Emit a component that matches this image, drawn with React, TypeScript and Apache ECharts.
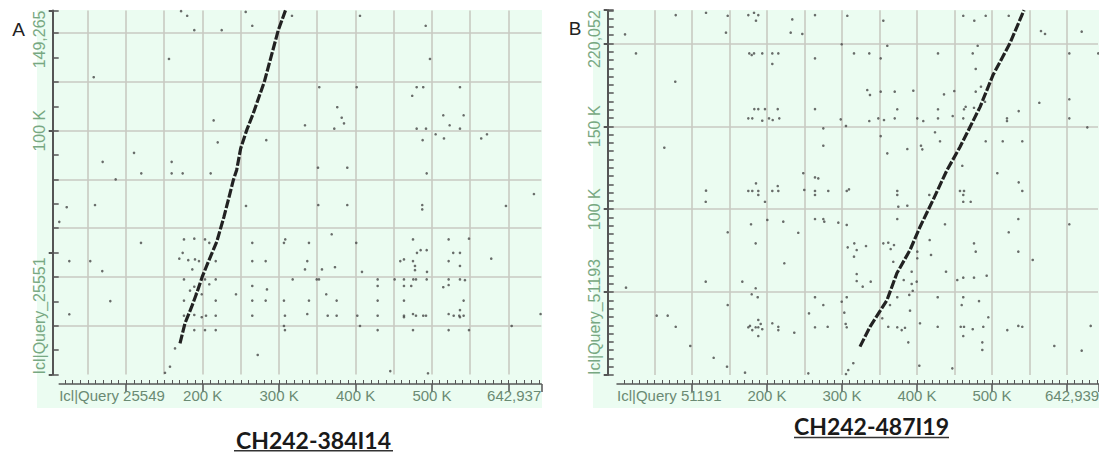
import { useEffect, useRef } from 'react';
import * as echarts from 'echarts';

// ---------- data (all positions in kb) ----------
const scatterA: number[][] = [
  [172, 149], [180, 147.1], [189.3, 141.2], [225.1, 141.2], [256.5, 148.7], [265.1, 143], [317, 147.1],
  [156.2, 129.4], [57.8, 121.9], [214.6, 104.2], [219.9, 95.2], [283.4, 96.1], [110.5, 90.9], [69.5, 87.2],
  [159.7, 87.2], [120, 82.5], [159.7, 82.5], [174.1, 82.5], [210.7, 82.5], [86.5, 80],
  [405.9, 147.1], [491.8, 143], [497.4, 129.4], [352.7, 117.8], [401.6, 117.8], [480, 117.8], [488.6, 117.8],
  [536.6, 117.8], [474.2, 114.3], [376.2, 109.6], [382, 105.3], [385, 103], [334, 102.2], [372.3, 100.8],
  [480, 100.8], [492.2, 100.8], [514.8, 106.3], [541.4, 106.3], [523.1, 102.2], [536.6, 100.8], [504.8, 98.5],
  [515.7, 96.8], [487.8, 96.1], [564.4, 96.8], [571.9, 98.5], [351, 84.8], [389.3, 84.8], [493.1, 82.5], [633.3, 74],
  [22.5, 68.6], [59.5, 69.5], [256.9, 69.1], [12.8, 62.6], [119.6, 54], [175.8, 55.4], [189.3, 55.7], [203.3, 55.4],
  [208.9, 54], [265.1, 54], [306.5, 54], [308.2, 55.4], [25.9, 46.5], [53.3, 46.5], [69, 42.4], [174.1, 49.9],
  [169.7, 47.5], [181.4, 46.9], [190.2, 47.2], [195.4, 46.5], [186.7, 43.1], [217.3, 46.5], [265.1, 46.5],
  [282.6, 46.5], [175.8, 39], [203.3, 39], [217.3, 39], [317.9, 39], [208.9, 37], [189.3, 36], [183.7, 34.4],
  [191.5, 33.3], [199, 32.9], [243.8, 32.9], [265.1, 36.3], [284.3, 34.9], [79.5, 30.1], [175.8, 30.3],
  [217.3, 30.3], [265.1, 30.3], [282.6, 30.3], [306.5, 30.3], [25.9, 24.7], [175.8, 24.1], [189.3, 24.4],
  [199, 23.5], [204.6, 24.1], [217.3, 24.1], [265.1, 24.1], [307.8, 24.1], [306.5, 19.9], [189.3, 18.2],
  [203.3, 18.2], [217.3, 18.2], [307.8, 18.2], [272.2, 8],
  [351.4, 69.5], [389.3, 69.5], [487.3, 69.5], [487.3, 67.7], [596.7, 69.1], [339.2, 54], [368.9, 57.5],
  [401, 54], [475.2, 55.4], [480.4, 49.9], [485.2, 51], [493.1, 51], [521.8, 55.4], [527.8, 49.9], [536.6, 49.9],
  [548.4, 55.7], [337, 46.5], [334, 43.1], [356.2, 43.1], [373.2, 44], [408.5, 42.1], [458.6, 46.5],
  [463.4, 47.2], [475.2, 46.5], [477.8, 44.5], [477.8, 42.8], [493.5, 42.1], [521.8, 46.5], [536.6, 44.5],
  [577.5, 47.5], [349.3, 39], [352.3, 39], [429, 39], [451.2, 39], [463.4, 39], [475.6, 39], [479.1, 39],
  [493.1, 39], [521.8, 39], [536.6, 39], [543.1, 38.7], [361.8, 32.9], [429, 36.3], [463.4, 36.3], [472.9, 36.3],
  [514.8, 35.8], [521.8, 36.7], [339.2, 30.3], [375.4, 30.3], [429, 30.3], [463.4, 30.3], [541.4, 30.3],
  [536.6, 26.4], [337, 24.8], [363.7, 24.1], [375.4, 24.1], [402.4, 24.1], [429, 24.1], [463.4, 24.1],
  [463.4, 23.5], [475.2, 24.8], [479.1, 24.1], [488.6, 24.1], [492.2, 24.1], [521.8, 24.8], [528.4, 24.1],
  [535.7, 24.1], [536.6, 23.5], [541.4, 24.1], [642, 24.8], [405.9, 19.9], [429, 18.2], [475.2, 18.2],
  [521.8, 18.2], [548.4, 18.2], [604.2, 19.9], [445.5, 1.4], [494.8, 0.5],
  [164.1, 10.7], [157.5, 3.2], [151, 0.7],
];

const alignA: number[][] = [
  [170.6, 12.8], [177.1, 21], [185.9, 27.8], [192.4, 33.3], [199.7, 40.1], [207.6, 46.2], [218.6, 54.4],
  [228.1, 64.7], [233.7, 71.5], [240.3, 79.7], [244.7, 83.9], [249.9, 92.7], [257.8, 100.2], [266.4, 107.1],
  [280.8, 120], [299.1, 141.2], [308.5, 149.3],
];

const scatterB: number[][] = [
  [78.3, 217.1], [118.7, 218.5], [147.6, 216.7], [175.1, 217.1], [182.7, 218.5], [188.4, 217.1], [185.3, 213.7],
  [233.7, 214.5], [264, 217.1], [10.7, 205.5], [145.3, 206.5], [231.6, 206.5], [247.1, 205.7], [25.3, 194],
  [176.4, 194], [179.6, 193], [182.7, 194], [193.7, 194], [207.1, 194], [215.1, 194], [207.1, 187.6], [264, 191],
  [77.7, 176.9], [183.1, 160.4], [188.4, 160.4], [197.3, 160.4], [214.3, 160.4], [264, 160.4], [175.1, 154.8],
  [180.4, 154.8], [193.7, 153.4], [202.7, 154.8], [207.6, 153.8], [216.4, 154.8], [275.1, 148.8], [275.1, 138.3],
  [63.1, 137.1], [248.4, 121.7], [264, 119.2], [268.4, 118.6], [118.7, 111.2], [175.1, 111], [180.4, 111],
  [188.4, 111], [188.4, 108.6], [185.3, 115.6], [207.1, 111], [215.1, 111], [214.3, 114], [249.7, 111.6],
  [264, 111], [264, 108.6], [281.7, 111],
  [307.1, 216.7], [355.1, 213.7], [461.7, 216.7], [476.4, 213.7], [491.6, 216.7], [522.3, 216.7], [565.3, 207.5],
  [570.7, 205.7], [619.6, 207.1], [299.6, 199.5], [360.4, 198.6], [480.9, 198.6], [316, 194], [336.4, 194],
  [351.6, 191], [428, 194], [474.3, 194], [603.1, 194], [641.7, 194], [478.3, 184.6], [333.7, 171.9],
  [337.3, 168.9], [351.6, 170.9], [370.3, 170.9], [395.1, 171.5], [436, 169.3], [449.7, 171.3], [478.3, 170.9],
  [485.3, 173.9], [490.7, 164.8], [563.1, 164.2], [603.1, 166.3], [373.7, 160.3], [428, 160.3], [464.9, 161.8],
  [462.7, 160.3], [476, 161.2], [535.6, 159.2], [298.3, 154.2], [336.4, 153.2], [348.4, 154.8], [356, 153.8],
  [370.3, 154.8], [400.4, 154.8], [408.4, 153.2], [428, 154.8], [447.6, 156.2], [461.7, 154.8], [520, 154.8],
  [520, 153.2], [603.1, 154.8], [305.3, 150.2], [351.6, 144.1], [424, 146.4], [430.7, 141], [491.6, 141],
  [514.3, 141], [540.4, 141], [627.1, 149.4], [360.4, 133.7], [387.1, 136.3], [405.3, 138.3], [407.1, 136.1],
  [460.4, 126.2], [507.1, 121.7], [535.6, 116.2], [540.4, 111], [306.3, 111], [309.3, 112], [373.7, 111],
  [373.7, 108.6], [416.4, 108.6], [457.3, 111], [462.7, 111], [461.7, 108.6],
  [118.3, 104.5], [197.3, 104.5], [200.4, 93.5], [221.7, 92.5], [178.7, 90.9], [147.6, 86.1], [241.7, 85.8],
  [264, 94.1], [275.1, 94.1], [276.4, 92.5], [184.9, 79.4], [223.1, 67.4], [118.3, 56.3], [167.1, 56.3],
  [184.9, 52.3], [12, 52.7], [179.6, 48.7], [187.6, 46.9], [147.6, 42.2], [264, 46.9], [275.1, 42.2], [256, 37.2],
  [52.9, 35.8], [67.6, 35.8], [78.3, 29.1], [177.3, 29.6], [175.1, 28.8], [180.4, 27.1], [184.9, 28.8],
  [188.4, 33.2], [188.4, 28.8], [191.6, 30.8], [193.7, 27.6], [188.4, 23.5], [207.1, 31.2], [215.1, 29.1],
  [215.1, 27.1], [236.4, 25.5], [264, 28.8], [280.9, 29.1], [97.7, 17.5], [128.9, 10.4], [146.7, 5],
  [170.7, 1.4], [255.1, 1],
  [375.1, 101.5], [387.1, 102.1], [461.7, 104.5], [471.6, 104.5], [295.1, 91.9], [306.3, 90.5], [373.7, 94.1],
  [437.3, 90.9], [535.1, 94.1], [603.1, 90.9], [522.3, 86.1], [416.9, 81.4], [307.6, 77], [316.4, 79.4],
  [319.6, 75.4], [332, 77.8], [316, 71.4], [355.1, 79.4], [361.7, 79.8], [364.9, 76], [369.3, 78.4],
  [400.4, 74.4], [400.4, 70.4], [418.7, 72.4], [476, 79.4], [478.3, 74.4], [535.1, 74.4], [554.3, 69.4],
  [368.4, 68.3], [438.7, 62.3], [319.6, 60.9], [319.6, 56.7], [327.6, 53.3], [338.3, 56.3], [382.3, 57.3],
  [392.9, 62.3], [392.9, 54.9], [399.6, 56.3], [453.7, 57.3], [461.7, 58.7], [476, 58.7], [492.9, 59.9],
  [373.7, 46.9], [389.7, 48.3], [394.3, 50.8], [427.6, 46.9], [461.7, 46.9], [299.6, 44.2], [306.3, 46.9],
  [303.1, 37.6], [364, 42.2], [390.7, 38.8], [459.6, 42.2], [482.7, 44.6], [495.1, 34.8], [304.9, 30.8],
  [306.3, 28.8], [353.7, 34.2], [361.7, 29.1], [373.7, 28.8], [379.6, 27.1], [384, 28.5], [404, 31.2],
  [427.6, 29.1], [458.3, 29.1], [462.7, 29.1], [461.7, 23.5], [474.3, 27.6], [488.4, 29.1], [487.1, 19.7],
  [487.1, 15.1], [520.4, 27.1], [535.1, 29.6], [540.4, 29.1], [583.1, 17.5], [619.6, 14.7], [631.6, 29.6],
  [388.4, 19.7], [403.1, 5.6], [447.1, 4],
  [305.3, 0.6], [308.4, 3], [315.1, 7.1],
];

const alignB: number[][] = [
  [324, 17.1], [337.3, 29], [360, 45.2], [373.3, 61.5], [390.7, 75.4], [404, 89.3], [421.3, 105.5],
  [440, 123.6], [457.3, 137.5], [470.7, 149.6], [484, 161.6], [501.3, 180.9], [524, 200.2], [542.7, 220.1],
];

// axis extents (kb)
const xMaxA = 642.937;
const yMaxA = 149.265;
const xStartA = 12.4;
const xMaxB = 642.939;
const yMaxB = 220.052;
const xStartB = 0;

// tick labels
const xLabelValuesA = [xStartA, 200, 300, 400, 500, xMaxA];
const xLabelTextsA = ['Icl|Query 25549', '200 K', '300 K', '400 K', '500 K', '642,937'];
const yLabelValuesA = [0, 100, yMaxA];
const yLabelTextsA = ['Icl|Query_25551', '100 K', '149,265'];

const xLabelValuesB = [xStartB, 200, 300, 400, 500, xMaxB];
const xLabelTextsB = ['Icl|Query 51191', '200 K', '300 K', '400 K', '500 K', '642,939'];
const yLabelValuesB = [0, 100, 150, yMaxB];
const yLabelTextsB = ['Icl|Query_51193', '100 K', '150 K', '220,052'];

const titles = ['CH242-384I14', 'CH242-487I19'];
const panelLetters = ['A', 'B'];

// ---------- styles ----------
const BG = '#ebfcf1';
const GRIDLINE = '#c8cac2';
const AXIS = '#555555';
const YLAB = '#78a882';
const XLAB = '#6a8a73';
const DOT = '#474747';
const ALIGN = '#222222';
const NARROW = "'Liberation Sans Narrow', 'Liberation Sans', sans-serif";

function stepValues(from: number, to: number, step: number): number[] {
  const out: number[] = [];
  for (let v = from; v <= to + 1e-9; v += step) out.push(Math.round(v * 1000) / 1000);
  return out;
}

function lookup(values: number[], texts: string[]) {
  return (v: number) => {
    const i = values.findIndex((u) => Math.abs(u - v) < 1e-6);
    return i >= 0 ? texts[i] : '';
  };
}

interface Panel {
  yAxisLeft: number;
  yRight: number;
  plotLeft: number;
  plotWidth: number;
  xAxisLeft: number;
  xAxisWidth: number;
  top: number;
  height: number;
  axisY: number;
  xStart: number;
  xMax: number;
  yMax: number;
  yGrid: number;
  yMinor: number;
  yMajor: number;
  xLabelValues: number[];
  xLabelTexts: string[];
  yLabelValues: number[];
  yLabelTexts: string[];
  scatter: number[][];
  align: number[][];
}

const panels: Panel[] = [
  {
    yAxisLeft: 52.7, yRight: 541.3, plotLeft: 49.5, plotWidth: 491.8, xAxisLeft: 59.2, xAxisWidth: 482.1,
    top: 10.5, height: 364, axisY: 384, xStart: xStartA, xMax: xMaxA, yMax: yMaxA, yGrid: 20, yMinor: 10, yMajor: 50,
    xLabelValues: xLabelValuesA, xLabelTexts: xLabelTextsA, yLabelValues: yLabelValuesA, yLabelTexts: yLabelTextsA,
    scatter: scatterA, align: alignA,
  },
  {
    yAxisLeft: 607.7, yRight: 1098, plotLeft: 617, plotWidth: 482.2, xAxisLeft: 617, xAxisWidth: 482.2,
    top: 10.2, height: 364.8, axisY: 384, xStart: xStartB, xMax: xMaxB, yMax: yMaxB, yGrid: 50, yMinor: 5, yMajor: 50,
    xLabelValues: xLabelValuesB, xLabelTexts: xLabelTextsB, yLabelValues: yLabelValuesB, yLabelTexts: yLabelTextsB,
    scatter: scatterB, align: alignB,
  },
];

function buildOption() {
  const grid: any[] = [];
  const xAxis: any[] = [];
  const yAxis: any[] = [];
  const series: any[] = [];

  panels.forEach((p) => {
    const g0 = grid.length;
    const base = { outerBoundsMode: 'none', containLabel: false, show: false };
    grid.push({ ...base, left: p.yAxisLeft, top: p.top, width: p.yRight - p.yAxisLeft, height: p.height });
    grid.push({ ...base, left: p.plotLeft, top: p.top, width: p.plotWidth, height: p.height });
    grid.push({ ...base, left: p.xAxisLeft, top: p.axisY - 1, width: p.xAxisWidth, height: 1 });

    const x0 = xAxis.length;
    const y0 = yAxis.length;
    const hidden = { type: 'value', show: false, axisLine: { onZero: false } };

    // x axes
    xAxis.push({ ...hidden, gridIndex: g0, min: 0, max: 1 });
    xAxis.push({
      type: 'value', gridIndex: g0 + 1, min: 0, max: p.xMax, interval: 50, position: 'bottom',
      axisLine: { show: false, onZero: false }, axisTick: { show: false }, axisLabel: { show: false },
      splitLine: { show: true, showMinLine: false, showMaxLine: false, lineStyle: { color: GRIDLINE, width: 1.6 } },
    });
    const minorX = stepValues(Math.ceil((p.xStart + 0.001) / 10) * 10, p.xMax, 10);
    const majorX = stepValues(100, p.xMax, 100).concat([p.xMax]);
    xAxis.push({
      type: 'value', gridIndex: g0 + 2, min: p.xStart, max: p.xMax, position: 'bottom',
      axisLine: { show: true, onZero: false, lineStyle: { color: AXIS, width: 1.5 } },
      axisTick: { show: true, inside: true, length: 4, customValues: minorX, lineStyle: { color: AXIS, width: 1 } },
      axisLabel: { show: false }, splitLine: { show: false },
    });
    xAxis.push({
      type: 'value', gridIndex: g0 + 2, min: p.xStart, max: p.xMax, position: 'bottom',
      axisLine: { show: false, onZero: false },
      axisTick: { show: true, inside: false, length: 8, customValues: majorX, lineStyle: { color: AXIS, width: 1.5 } },
      axisLabel: {
        show: true, customValues: p.xLabelValues, formatter: lookup(p.xLabelValues, p.xLabelTexts),
        margin: 4, color: XLAB, fontSize: 15, fontFamily: NARROW, alignMinLabel: 'left', alignMaxLabel: 'right',
      },
      splitLine: { show: false },
    });

    // y axes
    yAxis.push({
      type: 'value', gridIndex: g0, min: 0, max: p.yMax, interval: p.yGrid, position: 'left',
      axisLine: { show: false, onZero: false }, axisTick: { show: false }, axisLabel: { show: false },
      splitLine: { show: true, showMinLine: false, showMaxLine: false, lineStyle: { color: GRIDLINE, width: 1.6 } },
    });
    yAxis.push({
      type: 'value', gridIndex: g0, min: 0, max: p.yMax, interval: p.yMinor, position: 'left',
      axisLine: { show: true, onZero: false, lineStyle: { color: AXIS, width: 2 } },
      axisTick: { show: true, inside: true, length: 6, lineStyle: { color: AXIS, width: 1.5 } },
      axisLabel: { show: false }, splitLine: { show: false },
    });
    yAxis.push({
      type: 'value', gridIndex: g0, min: 0, max: p.yMax, interval: p.yMajor, position: 'left',
      axisLine: { show: false, onZero: false },
      axisTick: { show: true, inside: false, length: 4, lineStyle: { color: AXIS, width: 2 } },
      axisLabel: {
        show: true, customValues: p.yLabelValues, formatter: lookup(p.yLabelValues, p.yLabelTexts),
        rotate: 90, margin: 5, color: YLAB, fontSize: 16, fontFamily: "'Liberation Sans', sans-serif",
        alignMinLabel: 'left', alignMaxLabel: 'right',
      },
      splitLine: { show: false },
    });
    yAxis.push({ ...hidden, gridIndex: g0 + 1, min: 0, max: p.yMax });
    yAxis.push({ ...hidden, gridIndex: g0 + 2, min: 0, max: 1 });

    series.push({
      type: 'scatter', xAxisIndex: x0 + 1, yAxisIndex: y0 + 3, data: p.scatter, symbol: 'circle',
      symbolSize: 2.6, itemStyle: { color: DOT }, silent: true, z: 3,
    });
    series.push({
      type: 'line', xAxisIndex: x0 + 1, yAxisIndex: y0 + 3, data: p.align, showSymbol: false, symbol: 'none',
      lineStyle: { color: ALIGN, width: 3.2, type: [9, 2] }, silent: true, z: 4,
    });
  });

  const titleFont = "Lato, 'Open Sans', sans-serif";
  const graphic: any[] = [
    { type: 'rect', z: -100, silent: true, shape: { x: 37, y: 10, width: 505, height: 398 }, style: { fill: BG } },
    { type: 'rect', z: -100, silent: true, shape: { x: 593, y: 10, width: 506, height: 398 }, style: { fill: BG } },
    { type: 'text', x: 18.5, y: 29, style: { text: panelLetters[0], fill: '#222', fontSize: 19, fontFamily: "'Liberation Sans', sans-serif", align: 'center', verticalAlign: 'middle' } },
    { type: 'text', x: 575, y: 28, style: { text: panelLetters[1], fill: '#222', fontSize: 19, fontFamily: "'Liberation Sans', sans-serif", align: 'center', verticalAlign: 'middle' } },
    { type: 'text', x: 313.5, y: 451, style: { text: titles[0], fill: '#1a1a1a', fontSize: 23, fontWeight: 'bold', fontFamily: titleFont, align: 'center', verticalAlign: 'bottom' } },
    { type: 'line', shape: { x1: 234, y1: 450.8, x2: 393, y2: 450.8 }, style: { stroke: '#333', lineWidth: 1.5 } },
    { type: 'text', x: 871.5, y: 437, style: { text: titles[1], fill: '#1a1a1a', fontSize: 23, fontWeight: 'bold', fontFamily: titleFont, align: 'center', verticalAlign: 'bottom' } },
    { type: 'line', shape: { x1: 794, y1: 437.5, x2: 949, y2: 437.5 }, style: { stroke: '#333', lineWidth: 1.5 } },
  ];

  return {
    animation: false,
    backgroundColor: '#ffffff',
    grid,
    xAxis,
    yAxis,
    series,
    graphic,
  };
}

export default function App() {
  const ref = useRef<HTMLDivElement>(null);
  useEffect(() => {
    document.body.style.margin = '0';
    if (!ref.current) return;
    const chart = echarts.init(ref.current, null, { renderer: 'svg' });
    chart.setOption(buildOption() as any);
    return () => chart.dispose();
  }, []);
  return <div ref={ref} style={{ width: 1099, height: 452 }} />;
}
